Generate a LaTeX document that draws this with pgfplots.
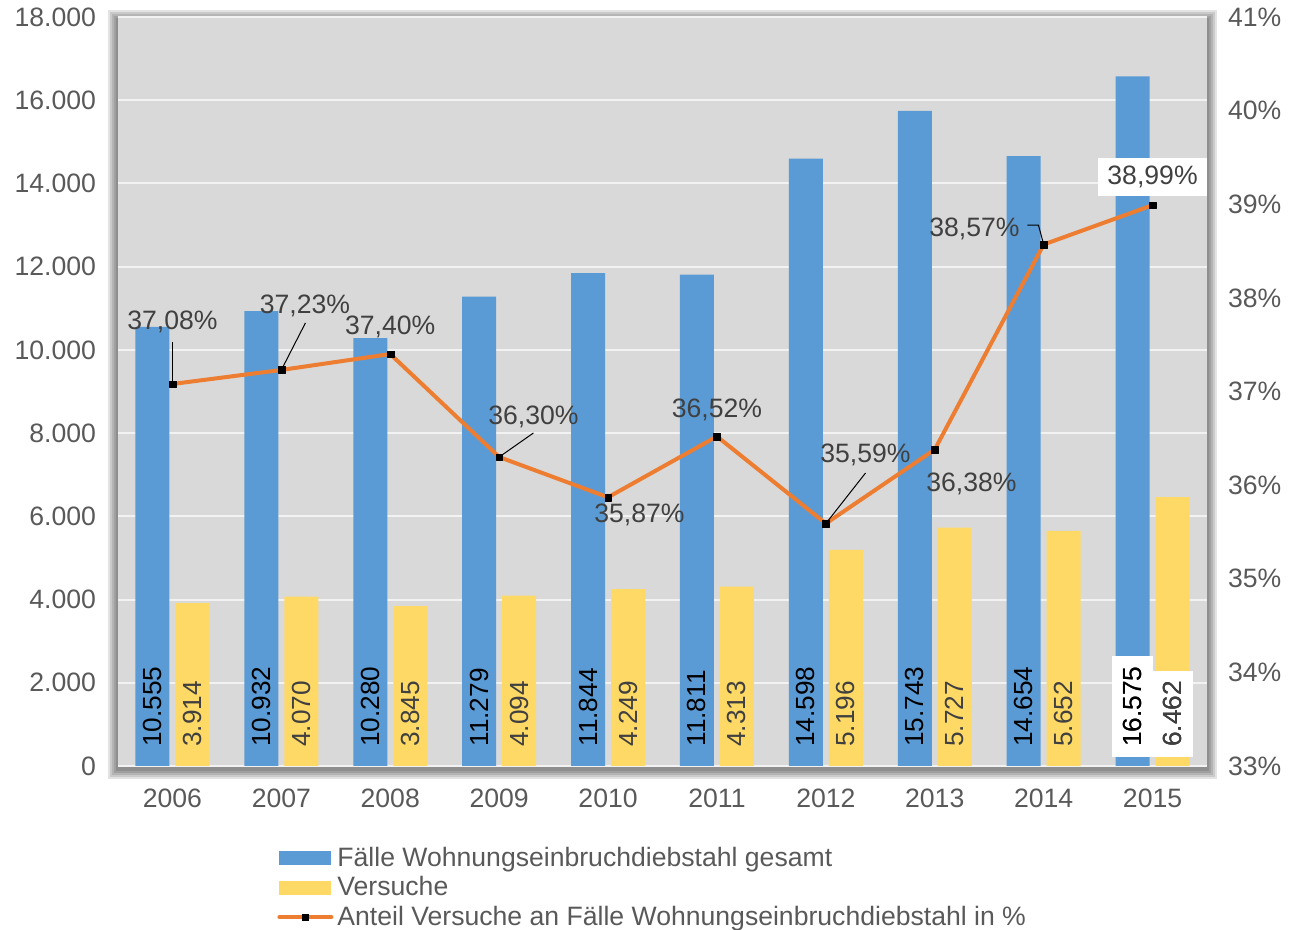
\documentclass[border=0pt]{standalone}
\usepackage{pgfplots}
\pgfplotsset{compat=1.18}
\usepackage{fontspec}
\setmainfont{Liberation Sans}
\definecolor{barblue}{HTML}{5B9BD5}
\definecolor{baryellow}{HTML}{FFD966}
\definecolor{lineorange}{HTML}{ED7D31}
\definecolor{bggray}{HTML}{D9D9D9}
\definecolor{gridc}{HTML}{F2F2F2}
\definecolor{tickgray}{HTML}{595959}
\definecolor{labgray}{HTML}{404040}
\newcommand{\fnt}{\fontsize{13.3}{15.3}\selectfont}
\newcommand{\bfnt}{\fontsize{13.1}{15}\selectfont}
\begin{document}
\begin{tikzpicture}
\path[use as bounding box] (-59pt,-82pt) rectangle (590.5pt,383pt);
% shadow
\foreach \i in {1,...,5}{
  \fill[black, opacity=0.11] ({-\i*1pt},{-\i*1pt-1.5pt}) rectangle ({544.5pt+\i*1pt},{374.5pt+\i*1pt-1.5pt});
}
\begin{axis}[
  scale only axis, width=544.5pt, height=374.5pt,
  at={(0,0)}, anchor=south west,
  xmin=-0.5, xmax=9.5, ymin=0, ymax=18000,
  xtick={0,...,9},
  xticklabels={2006,2007,2008,2009,2010,2011,2012,2013,2014,2015},
  ytick={0,2000,...,18000},
  yticklabels={0,2.000,4.000,6.000,8.000,10.000,12.000,14.000,16.000,18.000},
  axis line style={draw=none},
  major tick style={draw=none},
  axis background/.style={fill=bggray},
  ymajorgrids, grid style={gridc, line width=1pt},
  ticklabel style={font=\fnt, text=tickgray},
  yticklabel style={xshift=-7.5pt},
  xticklabel style={yshift=-3.5pt},
  ybar=3pt, bar width=17pt,
  clip=false,
  legend style={at={(0.1405,-0.097)}, anchor=north west, draw=none, fill=none,
    font=\fnt, text=tickgray, row sep=-0.4pt},
  legend cell align=left,
]
\addplot[ybar, fill=barblue, draw=none,
  point meta=explicit symbolic,
  nodes near coords,
  visualization depends on={y \as \rawy},
  every node near coord/.append style={shift={(axis direction cs:0,-\rawy)}, yshift=9.5pt, rotate=90, anchor=west, font=\bfnt, text=black, inner sep=0pt},
  legend image code/.code={\fill[barblue] (0pt,-3.5pt) rectangle (26pt,3.5pt);}]
coordinates {(0,10555) [10.555] (1,10932) [10.932] (2,10280) [10.280] (3,11279) [11.279] (4,11844) [11.844]
 (5,11811) [11.811] (6,14598) [14.598] (7,15743) [15.743] (8,14654) [14.654] (9,16575) [16.575]};
\addlegendentry{Fälle Wohnungseinbruchdiebstahl gesamt}
\addplot[ybar, fill=baryellow, draw=none,
  point meta=explicit symbolic,
  nodes near coords,
  visualization depends on={y \as \rawy},
  every node near coord/.append style={shift={(axis direction cs:0,-\rawy)}, yshift=9.5pt, rotate=90, anchor=west, font=\bfnt, text=labgray, inner sep=0pt},
  legend image code/.code={\fill[baryellow] (0pt,-3.5pt) rectangle (26pt,3.5pt);}]
coordinates {(0,3914) [3.914] (1,4070) [4.070] (2,3845) [3.845] (3,4094) [4.094] (4,4249) [4.249]
 (5,4313) [4.313] (6,5196) [5.196] (7,5727) [5.727] (8,5652) [5.652] (9,6462) [6.462]};
\addlegendentry{Versuche}
\addlegendimage{legend image code/.code={\draw[lineorange, line width=2pt, line cap=round] (0pt,0pt) -- (26pt,0pt); \fill[black] (11.5pt,-1.6pt) rectangle (14.5pt,1.6pt);}}
\addlegendentry{Anteil Versuche an Fälle Wohnungseinbruchdiebstahl in \%}
\node[rotate=90, anchor=west, fill=white, inner xsep=5pt, inner ysep=5.5pt, font=\bfnt, text=black] at ([xshift=-10pt,yshift=4.5pt]axis cs:9,0) {16.575};
\node[rotate=90, anchor=west, fill=white, inner xsep=5pt, inner ysep=5.5pt, font=\bfnt, text=black] at ([xshift=10pt,yshift=4.5pt]axis cs:9,0) {6.462};
\end{axis}
\begin{axis}[
  scale only axis, width=544.5pt, height=374.5pt,
  at={(0,0)}, anchor=south west,
  xmin=-0.5, xmax=9.5, ymin=33, ymax=41,
  hide x axis,
  axis y line*=right,
  ytick={33,...,41},
  yticklabels={33\%,34\%,35\%,36\%,37\%,38\%,39\%,40\%,41\%},
  axis line style={draw=none},
  major tick style={draw=none},
  yticklabel style={font=\fnt, text=tickgray, xshift=7pt},
  clip=false,
]
\addplot[lineorange, line width=2pt, line join=round, mark=square*, mark size=1.7pt,
  mark options={fill=black, draw=black, line width=0.1pt, solid}]
coordinates {(0,37.08) (1,37.23) (2,37.40) (3,36.30) (4,35.87) (5,36.52) (6,35.59) (7,36.38) (8,38.57) (9,38.99)};
\begin{scope}[every node/.style={font=\fnt, text=labgray, inner sep=1pt}]
\draw[black, line width=0.5pt] (axis cs:0,37.529) -- (axis cs:0,37.08);
\draw[black, line width=0.5pt] (axis cs:1.221,37.732) -- (axis cs:1,37.23);
\draw[black, line width=0.5pt] (axis cs:3.315,36.557) -- (axis cs:3,36.30);
\draw[black, line width=0.5pt] (axis cs:6.364,36.129) -- (axis cs:6,35.59);
\draw[black, line width=0.5pt] (axis cs:7.851,38.778) -- (axis cs:7.952,38.778) -- (axis cs:8,38.57);
\node at (axis cs:0,37.74) {37,08\%};
\node at (axis cs:1.217,37.915) {37,23\%};
\node at (axis cs:2,37.69) {37,40\%};
\node at (axis cs:3.315,36.73) {36,30\%};
\node at (axis cs:4.288,35.682) {35,87\%};
\node at (axis cs:5,36.804) {36,52\%};
\node at (axis cs:6.364,36.323) {35,59\%};
\node at (axis cs:7.337,36.013) {36,38\%};
\node at (axis cs:7.365,38.737) {38,57\%};
\node[fill=white, inner xsep=4.5pt, inner ysep=4pt] at (axis cs:9,39.29) {38,99\%};
\end{scope}
\end{axis}
\end{tikzpicture}
\end{document}
